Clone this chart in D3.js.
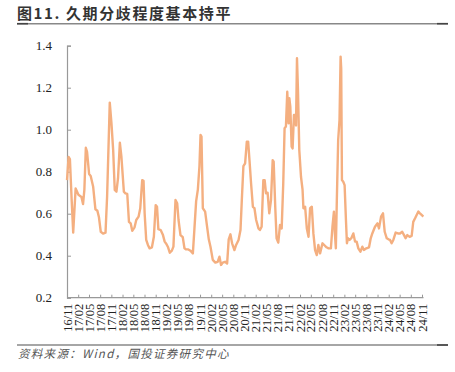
<!DOCTYPE html>
<html><head><meta charset="utf-8">
<script src="https://cdn.jsdelivr.net/npm/d3@7"></script>
<style>body{margin:0;background:#fff}svg{display:block}</style>
</head><body><svg id="c" width="455" height="372"></svg>
<script>
const dates = ["2016-11-01","2016-11-14","2016-11-25","2016-12-09","2016-12-22","2017-01-11","2017-02-03","2017-02-28","2017-03-13","2017-03-24","2017-04-05","2017-04-15","2017-05-02","2017-05-15","2017-06-04","2017-06-23","2017-07-09","2017-07-22","2017-08-06","2017-08-25","2017-09-14","2017-09-27","2017-10-19","2017-11-02","2017-11-16","2017-11-29","2017-12-13","2017-12-26","2018-01-10","2018-01-23","2018-02-12","2018-02-25","2018-03-12","2018-03-26","2018-04-09","2018-04-22","2018-05-11","2018-05-25","2018-06-13","2018-06-27","2018-07-13","2018-07-24","2018-08-02","2018-08-15","2018-08-29","2018-09-12","2018-10-01","2018-10-17","2018-11-01","2018-11-12","2018-11-23","2018-12-12","2018-12-31","2019-01-14","2019-01-28","2019-02-11","2019-02-25","2019-03-14","2019-03-27","2019-04-13","2019-04-27","2019-05-08","2019-05-24","2019-06-12","2019-06-26","2019-07-09","2019-07-28","2019-08-14","2019-09-03","2019-09-16","2019-09-30","2019-10-14","2019-10-27","2019-11-05","2019-11-13","2019-11-24","2019-12-13","2019-12-29","2020-01-12","2020-01-26","2020-02-14","2020-03-06","2020-03-25","2020-04-09","2020-04-22","2020-05-06","2020-05-25","2020-06-11","2020-06-24","2020-07-08","2020-07-22","2020-08-10","2020-08-24","2020-09-13","2020-09-29","2020-10-10","2020-10-23","2020-11-06","2020-11-20","2020-12-01","2020-12-12","2020-12-25","2021-01-09","2021-01-22","2021-02-05","2021-02-24","2021-03-08","2021-03-22","2021-04-05","2021-04-16","2021-04-27","2021-05-10","2021-05-24","2021-06-07","2021-06-21","2021-06-29","2021-07-12","2021-07-23","2021-08-06","2021-08-20","2021-09-03","2021-09-16","2021-09-27","2021-10-08","2021-10-19","2021-10-30","2021-11-05","2021-11-13","2021-11-24","2021-12-02","2021-12-13","2021-12-24","2021-12-30","2022-01-07","2022-01-15","2022-01-26","2022-02-09","2022-02-22","2022-03-01","2022-03-15","2022-03-29","2022-04-12","2022-04-25","2022-05-09","2022-05-22","2022-06-05","2022-06-19","2022-07-02","2022-07-16","2022-08-05","2022-08-19","2022-09-07","2022-09-24","2022-10-13","2022-10-26","2022-11-07","2022-11-15","2022-11-23","2022-12-01","2022-12-12","2022-12-23","2023-01-01","2023-01-06","2023-01-12","2023-01-23","2023-02-03","2023-02-14","2023-02-22","2023-03-03","2023-03-16","2023-03-30","2023-04-16","2023-04-30","2023-05-13","2023-05-27","2023-06-13","2023-06-29","2023-07-12","2023-08-01","2023-08-23","2023-09-06","2023-09-19","2023-10-11","2023-10-31","2023-11-13","2023-11-30","2023-12-16","2023-12-30","2024-01-16","2024-01-30","2024-02-12","2024-02-25","2024-03-10","2024-03-29","2024-04-17","2024-05-04","2024-05-22","2024-06-06","2024-06-19","2024-07-03","2024-07-22","2024-08-08","2024-08-21","2024-09-05","2024-09-18","2024-10-02","2024-10-15","2024-10-29","2024-11-12"];
const values = [0.76,0.87,0.86,0.67,0.51,0.72,0.69,0.68,0.646,0.713,0.914,0.895,0.789,0.78,0.73,0.621,0.614,0.583,0.514,0.505,0.51,0.681,1.129,1.03,0.903,0.713,0.705,0.769,0.938,0.87,0.705,0.697,0.694,0.561,0.554,0.519,0.535,0.57,0.586,0.626,0.76,0.757,0.602,0.475,0.451,0.435,0.44,0.49,0.641,0.633,0.526,0.522,0.498,0.467,0.456,0.44,0.414,0.424,0.443,0.665,0.649,0.57,0.498,0.488,0.435,0.43,0.43,0.424,0.411,0.53,0.66,0.715,0.824,0.975,0.967,0.626,0.61,0.538,0.478,0.443,0.38,0.367,0.371,0.395,0.356,0.367,0.371,0.363,0.478,0.502,0.459,0.427,0.451,0.475,0.522,0.665,0.827,0.84,0.943,0.943,0.855,0.745,0.633,0.626,0.57,0.53,0.522,0.538,0.76,0.76,0.697,0.7,0.602,0.665,0.855,0.848,0.633,0.483,0.462,0.546,0.53,0.745,1.007,1.015,1.181,1.03,1.15,1.11,0.919,0.911,1.07,1.07,1.02,1.34,1.19,0.903,0.776,0.713,0.626,0.633,0.53,0.49,0.626,0.633,0.506,0.427,0.403,0.451,0.411,0.459,0.451,0.44,0.435,0.435,0.538,0.61,0.506,0.435,0.665,0.951,1.046,1.348,1.29,0.76,0.752,0.736,0.57,0.459,0.483,0.475,0.483,0.506,0.467,0.467,0.435,0.419,0.443,0.427,0.435,0.44,0.483,0.506,0.538,0.554,0.53,0.586,0.602,0.514,0.483,0.478,0.475,0.459,0.475,0.51,0.506,0.506,0.514,0.498,0.483,0.498,0.49,0.494,0.561,0.578,0.594,0.61,0.602,0.594,0.586];
const tickLabels = ["16/11","17/02","17/05","17/08","17/11","18/02","18/05","18/08","18/11","19/02","19/05","19/08","19/11","20/02","20/05","20/08","20/11","21/02","21/05","21/08","21/11","22/02","22/05","22/08","22/11","23/02","23/05","23/08","23/11","24/02","24/05","24/08","24/11"];
const yTicks = [0.2,0.4,0.6,0.8,1.0,1.2,1.4];
const title = "图11. 久期分歧程度基本持平";
const source = "资料来源：Wind，国投证券研究中心";

const svg = d3.select("#c");
const parse = d3.utcParse("%Y-%m-%d");
const tickDates = tickLabels.map(s => new Date(Date.UTC(2000 + +s.slice(0,2), +s.slice(3) - 1, 1)));
const data = dates.map((d,i) => ({d: parse(d), v: values[i]}));

const x = d3.scaleUtc().domain([tickDates[0], tickDates[tickDates.length-1]]).range([67, 422]);
const y = d3.scaleLinear().domain([0.2, 1.4]).range([297.7, 45.7]);

// title and rules
svg.append("text").attr("x", 17).attr("y", 18.5)
  .attr("font-family", "'Noto Sans CJK SC', sans-serif").attr("font-size", 15).attr("font-weight", "bold")
  .attr("letter-spacing", 1.6).attr("fill", "#333").text(title);
svg.append("line").attr("x1", 17).attr("x2", 448).attr("y1", 23.7).attr("y2", 23.7).attr("stroke", "#888").attr("stroke-width", 1.4);
svg.append("line").attr("x1", 17).attr("x2", 28).attr("y1", 23.7).attr("y2", 23.7).attr("stroke", "#444").attr("stroke-width", 1.6);
svg.append("line").attr("x1", 437).attr("x2", 448).attr("y1", 23.7).attr("y2", 23.7).attr("stroke", "#444").attr("stroke-width", 1.6);
svg.append("line").attr("x1", 17).attr("x2", 448).attr("y1", 345).attr("y2", 345).attr("stroke", "#888").attr("stroke-width", 1.4);
svg.append("line").attr("x1", 437).attr("x2", 448).attr("y1", 345).attr("y2", 345).attr("stroke", "#444").attr("stroke-width", 1.6);
svg.append("text").attr("x", 18).attr("y", 357.5)
  .attr("font-family", "'Noto Sans CJK SC', sans-serif").attr("font-size", 11.5).attr("font-style", "italic")
  .attr("letter-spacing", 1.3).attr("fill", "#555").text(source);

// y axis
const yAxis = svg.append("g").attr("transform", "translate(67,0)")
  .call(d3.axisRight(y).tickValues(yTicks).tickSize(4).tickFormat(d3.format(".1f")));
yAxis.select(".domain").attr("stroke", "#999").attr("stroke-width", 1.2);
yAxis.selectAll(".tick line").attr("stroke", "#999");
yAxis.selectAll(".tick text").attr("x", -15).attr("text-anchor", "end")
  .attr("font-family", "'Liberation Serif', 'Times New Roman', serif").attr("font-size", 13).attr("fill", "#222");

// x axis
const xAxis = svg.append("g").attr("transform", "translate(0,297.7)")
  .call(d3.axisTop(x).tickValues(tickDates).tickSize(3).tickSizeOuter(0).tickFormat((d,i) => tickLabels[i]));
xAxis.select(".domain").attr("stroke", "#999").attr("stroke-width", 1.2).attr("d", "M67,0H423.5");
xAxis.selectAll(".tick line").attr("stroke", "#999");
xAxis.selectAll(".tick text")
  .attr("font-family", "'Liberation Serif', 'Times New Roman', serif").attr("font-size", 12.5).attr("fill", "#222")
  .attr("text-anchor", "end").attr("x", 0).attr("y", 0).attr("dy", "0.33em")
  .attr("transform", "translate(0,6) rotate(-90)");

// line
svg.append("path").datum(data)
  .attr("fill", "none").attr("stroke", "#F4AF80").attr("stroke-width", 2.4).attr("stroke-linejoin", "round")
  .attr("d", d3.line().x(d => x(d.d)).y(d => y(d.v)));
</script></body></html>
